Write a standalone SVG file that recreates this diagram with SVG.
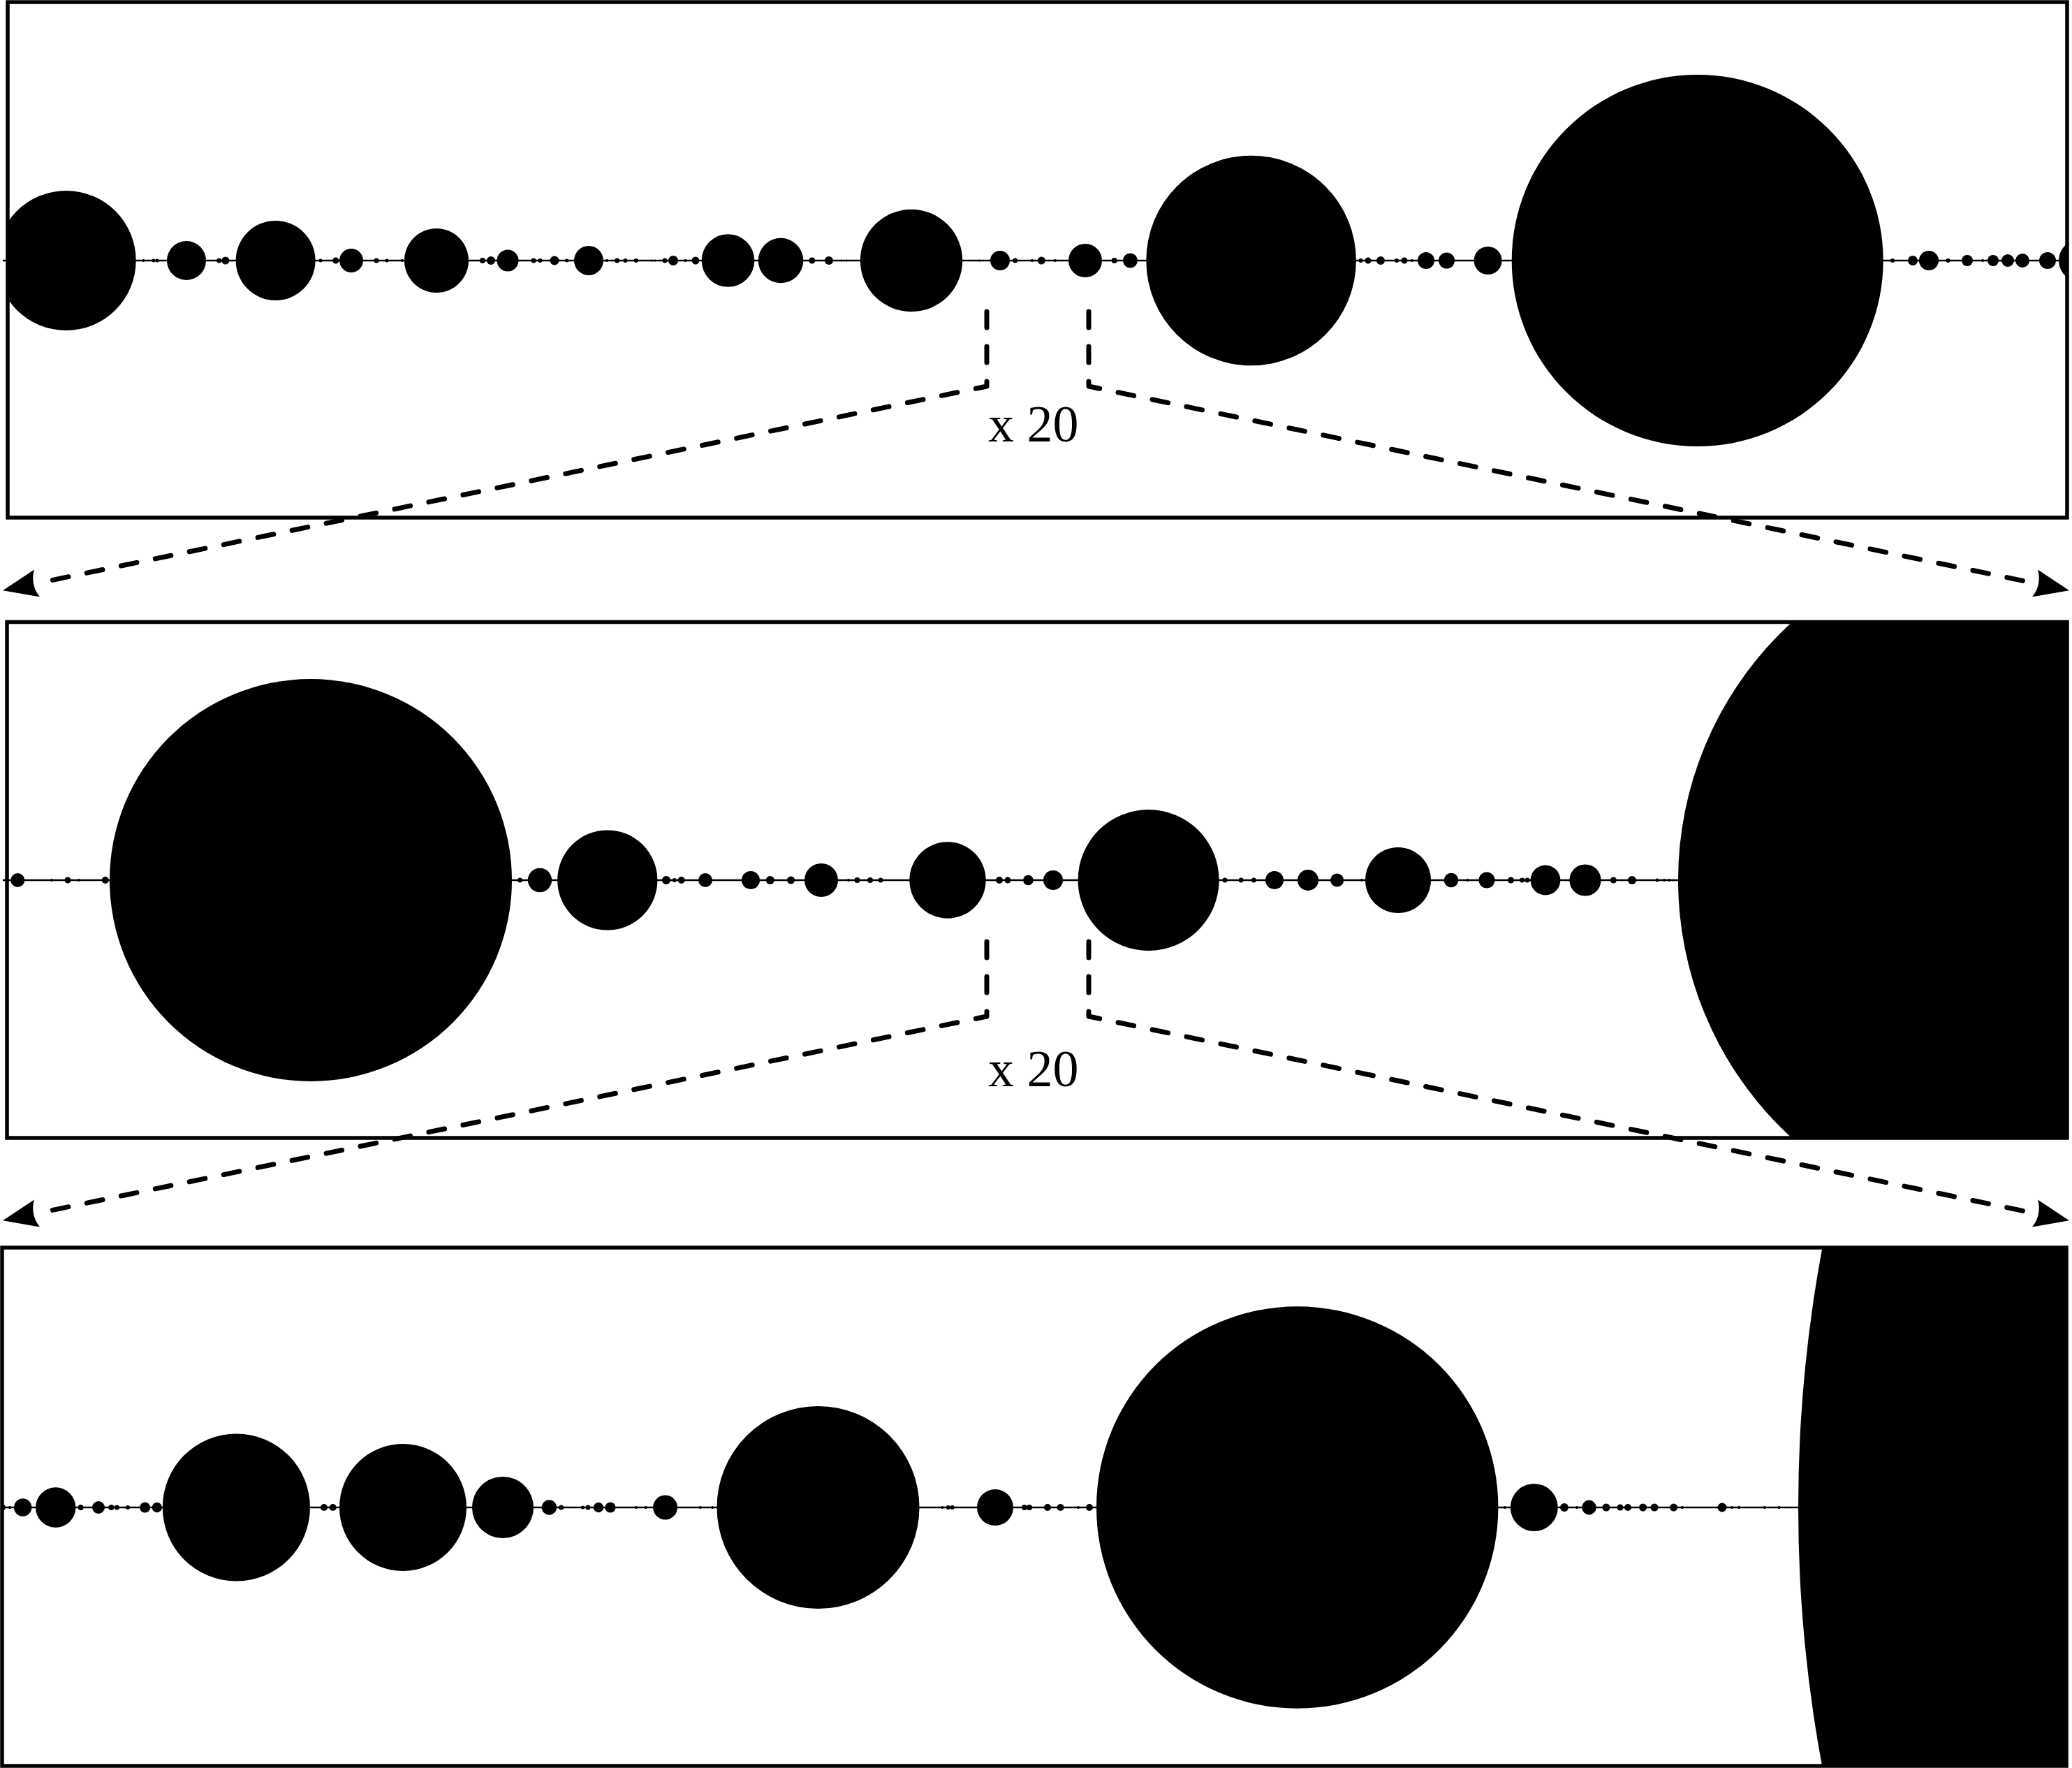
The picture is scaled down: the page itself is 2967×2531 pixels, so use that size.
<svg xmlns="http://www.w3.org/2000/svg" width="2967" height="2531" viewBox="0 0 2967 2531">
<style>
.frame{fill:none;stroke:#000;stroke-width:5.5}
.axis{stroke:#000;stroke-width:2.5;fill:none}
.dot{fill:#000}
.dash{fill:none;stroke:#000;stroke-width:7;stroke-dasharray:23 27;stroke-linecap:round;stroke-linejoin:round}
.lbl{font-family:"Liberation Serif","Times New Roman",serif;font-size:74px;fill:#000}
</style>
<defs>
<clipPath id="c1"><rect x="11" y="3" width="2949" height="738"/></clipPath>
<clipPath id="c2"><rect x="10" y="890.5" width="2950" height="738.5"/></clipPath>
<clipPath id="c3"><rect x="3" y="1786" width="2956" height="742"/></clipPath>
<marker id="arr" markerUnits="userSpaceOnUse" markerWidth="60" markerHeight="50" viewBox="0 0 60 50" refX="0" refY="25" orient="auto" overflow="visible">
<path d="M 0 5 Q 10 25 0 45 L 50 25 Z" fill="#000" stroke="none"/>
</marker>
</defs>
<rect width="2967" height="2531" fill="#fff"/>

<g id="panel1">
<line class="axis" x1="4" y1="373" x2="2960" y2="373"/>
<g clip-path="url(#c1)" class="dot">
<circle cx="94.7" cy="373" r="100"/>
<circle cx="205.7" cy="373" r="2"/><circle cx="220" cy="373" r="2.5"/><circle cx="225" cy="373" r="2.5"/>
<circle cx="267" cy="373" r="28"/>
<circle cx="313.8" cy="373" r="3.5"/><circle cx="322.9" cy="373" r="5.5"/>
<circle cx="394.6" cy="373" r="57"/>
<circle cx="459" cy="373" r="2.5"/><circle cx="480.7" cy="373" r="4.5"/>
<circle cx="503" cy="373" r="17"/>
<circle cx="539" cy="373" r="3.5"/><circle cx="554" cy="373" r="2.5"/><circle cx="576" cy="373" r="2"/>
<circle cx="625" cy="373" r="46"/>
<circle cx="691" cy="373" r="4"/><circle cx="703" cy="373" r="6"/>
<circle cx="727" cy="373" r="15.5"/>
<circle cx="764" cy="373" r="3.5"/><circle cx="773.5" cy="373" r="3"/><circle cx="794" cy="373" r="6.5"/><circle cx="811.7" cy="373" r="2.5"/>
<circle cx="843" cy="373" r="21"/>
<circle cx="869" cy="373" r="2"/><circle cx="883.5" cy="373" r="3.5"/><circle cx="895.5" cy="373" r="3"/><circle cx="910.8" cy="373" r="3"/><circle cx="933" cy="373" r="1.5"/><circle cx="938" cy="373" r="1.5"/><circle cx="952" cy="373" r="3.5"/><circle cx="964" cy="373" r="7"/><circle cx="981.5" cy="373" r="2"/><circle cx="996" cy="373" r="5.5"/>
<circle cx="1042.5" cy="373" r="37.8"/>
<circle cx="1118" cy="373" r="32.3"/>
<circle cx="1162.8" cy="373" r="4.5"/><circle cx="1187" cy="373" r="6"/><circle cx="1205" cy="373" r="1.5"/><circle cx="1212" cy="373" r="1.5"/>
<circle cx="1305" cy="373" r="73.2"/>
<circle cx="1402.5" cy="373" r="1.5"/><circle cx="1432" cy="373" r="14"/><circle cx="1453.6" cy="373" r="3.5"/><circle cx="1478" cy="373" r="2"/><circle cx="1491.4" cy="373" r="5.5"/><circle cx="1511" cy="373" r="2"/>
<circle cx="1554" cy="373" r="24"/>
<circle cx="1595.7" cy="373" r="4"/><circle cx="1618.5" cy="373" r="10.5"/>
<circle cx="1791.6" cy="373" r="150.3"/>
<circle cx="1948.5" cy="373" r="3"/><circle cx="1959" cy="373" r="4.5"/><circle cx="1977" cy="373" r="6"/><circle cx="2000" cy="373" r="3"/><circle cx="2011" cy="373" r="4.5"/><circle cx="2022" cy="373" r="2"/>
<circle cx="2042" cy="373" r="12"/><circle cx="2071.5" cy="373" r="11.5"/>
<circle cx="2130.6" cy="373" r="20"/>
<circle cx="2430.7" cy="373" r="266"/>
<circle cx="2710" cy="373" r="3"/><circle cx="2739" cy="373" r="7"/><circle cx="2762" cy="373" r="14"/><circle cx="2789.6" cy="373" r="3"/><circle cx="2817" cy="373" r="8"/><circle cx="2839" cy="373" r="2"/><circle cx="2854" cy="373" r="8"/><circle cx="2875" cy="373" r="9"/><circle cx="2896" cy="373" r="10"/><circle cx="2932" cy="373" r="12"/>
<circle cx="2978" cy="373" r="30"/>
</g>
<rect class="frame" x="11" y="3" width="2949" height="738"/>
</g>

<g id="panel2">
<line class="axis" x1="4" y1="1260" x2="2960" y2="1260"/>
<g clip-path="url(#c2)" class="dot">
<circle cx="25.3" cy="1260" r="10"/>
<circle cx="74" cy="1260" r="2"/><circle cx="97" cy="1260" r="4.5"/><circle cx="113" cy="1260" r="2"/><circle cx="150.8" cy="1260" r="5"/>
<circle cx="445" cy="1260" r="288"/>
<circle cx="744.6" cy="1260" r="3.5"/>
<circle cx="773" cy="1260" r="17.2"/>
<circle cx="869.8" cy="1260" r="71.6"/>
<circle cx="954" cy="1260" r="6"/><circle cx="965.8" cy="1260" r="3"/><circle cx="975.7" cy="1260" r="5"/>
<circle cx="1010" cy="1260" r="10"/>
<circle cx="1075" cy="1260" r="13"/>
<circle cx="1102.8" cy="1260" r="6"/><circle cx="1132.6" cy="1260" r="5.5"/>
<circle cx="1176" cy="1260" r="24"/>
<circle cx="1215" cy="1260" r="2"/><circle cx="1227.5" cy="1260" r="4"/><circle cx="1246" cy="1260" r="4"/><circle cx="1261" cy="1260" r="3.5"/>
<circle cx="1357" cy="1260" r="54.7"/>
<circle cx="1431" cy="1260" r="5"/><circle cx="1443" cy="1260" r="4.5"/><circle cx="1472.4" cy="1260" r="7.3"/>
<circle cx="1508" cy="1260" r="14"/>
<circle cx="1644.6" cy="1260" r="101"/>
<circle cx="1754" cy="1260" r="3.5"/><circle cx="1777" cy="1260" r="3.5"/><circle cx="1795.4" cy="1260" r="3.5"/>
<circle cx="1825" cy="1260" r="13"/>
<circle cx="1873" cy="1260" r="15"/>
<circle cx="1914.6" cy="1260" r="9.6"/>
<circle cx="1950" cy="1260" r="2"/>
<circle cx="2002" cy="1260" r="47"/>
<circle cx="2078" cy="1260" r="10.3"/>
<circle cx="2101.5" cy="1260" r="2"/>
<circle cx="2129" cy="1260" r="11.5"/>
<circle cx="2163.5" cy="1260" r="4.5"/><circle cx="2179.6" cy="1260" r="3.5"/><circle cx="2187" cy="1260" r="3.5"/>
<circle cx="2213" cy="1260" r="21.4"/>
<circle cx="2270" cy="1260" r="22.6"/>
<circle cx="2310.4" cy="1260" r="4.5"/><circle cx="2337" cy="1260" r="6"/><circle cx="2373" cy="1260" r="2.5"/><circle cx="2383" cy="1260" r="2"/><circle cx="2390" cy="1260" r="2"/>
<circle cx="2903" cy="1260" r="500"/>
</g>
<rect class="frame" x="10" y="890.5" width="2950" height="738.5"/>
</g>

<g id="panel3">
<line class="axis" x1="3" y1="2158" x2="2959" y2="2158"/>
<g clip-path="url(#c3)" class="dot">
<circle cx="3" cy="2158" r="5"/><circle cx="14" cy="2158" r="2"/>
<circle cx="32.7" cy="2158" r="12.7"/>
<circle cx="79.7" cy="2158" r="28.7"/>
<circle cx="115.6" cy="2158" r="4"/>
<circle cx="141" cy="2158" r="9"/>
<circle cx="159.4" cy="2158" r="4"/><circle cx="167.4" cy="2158" r="3.5"/><circle cx="183" cy="2158" r="3"/>
<circle cx="207.6" cy="2158" r="7.6"/><circle cx="224.8" cy="2158" r="7.2"/>
<circle cx="338.4" cy="2158" r="105.6"/>
<circle cx="464" cy="2158" r="5"/><circle cx="476.7" cy="2158" r="5"/>
<circle cx="577" cy="2158" r="91"/>
<circle cx="720" cy="2158" r="44"/>
<circle cx="786.4" cy="2158" r="10.7"/>
<circle cx="803.6" cy="2158" r="3.5"/>
<circle cx="834.6" cy="2158" r="2.5"/><circle cx="842" cy="2158" r="3.5"/>
<circle cx="857" cy="2158" r="7.2"/><circle cx="874" cy="2158" r="7.6"/>
<circle cx="911" cy="2158" r="2"/><circle cx="924.7" cy="2158" r="2"/>
<circle cx="952.6" cy="2158" r="17.5"/>
<circle cx="1003" cy="2158" r="2"/><circle cx="1020" cy="2158" r="2"/>
<circle cx="1171.5" cy="2158" r="145"/>
<circle cx="1349.5" cy="2158" r="2"/><circle cx="1357.8" cy="2158" r="3"/><circle cx="1363.6" cy="2158" r="3"/>
<circle cx="1425" cy="2158" r="26"/>
<circle cx="1467" cy="2158" r="4"/><circle cx="1474" cy="2158" r="4"/><circle cx="1500" cy="2158" r="5"/><circle cx="1518.6" cy="2158" r="5"/><circle cx="1544" cy="2158" r="2"/><circle cx="1560" cy="2158" r="5"/>
<circle cx="1857.7" cy="2158" r="287.7"/>
<circle cx="2155" cy="2158" r="2"/>
<circle cx="2196.8" cy="2158" r="34"/>
<circle cx="2240" cy="2158" r="6"/><circle cx="2258" cy="2158" r="2"/><circle cx="2275.5" cy="2158" r="10.4"/><circle cx="2300" cy="2158" r="5.5"/><circle cx="2320" cy="2158" r="4.5"/><circle cx="2331" cy="2158" r="5"/><circle cx="2352.6" cy="2158" r="5.5"/><circle cx="2369" cy="2158" r="5.5"/><circle cx="2396.6" cy="2158" r="5.5"/><circle cx="2409" cy="2158" r="2"/><circle cx="2466" cy="2158" r="6.5"/><circle cx="2480" cy="2158" r="2"/><circle cx="2490" cy="2158" r="2"/><circle cx="2526.7" cy="2158" r="2"/><circle cx="2547.5" cy="2158" r="2"/>
<circle cx="4600" cy="2158" r="2025"/>
</g>
<rect class="frame" x="3" y="1786" width="2956" height="742"/>
</g>

<g id="connectors">
<path class="dash" d="M 1413 446 L 1413 553 L 53 835" marker-end="url(#arr)"/>
<path class="dash" d="M 1559 446 L 1559 553 L 2914 835" marker-end="url(#arr)"/>
<path class="dash" d="M 1413 1348 L 1413 1455 L 53 1737" marker-end="url(#arr)"/>
<path class="dash" d="M 1559 1348 L 1559 1455 L 2914 1737" marker-end="url(#arr)"/>
</g>

<g id="labels">
<text class="lbl" x="1415" y="632">x 20</text>
<text class="lbl" x="1415" y="1555">x 20</text>
</g>
</svg>
